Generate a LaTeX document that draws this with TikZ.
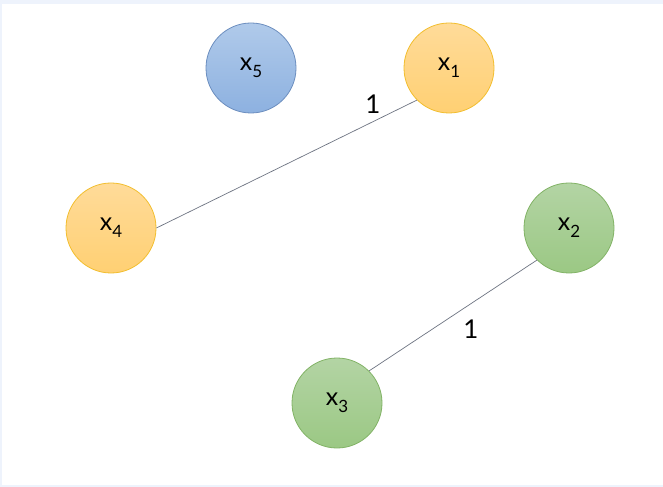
\documentclass[tikz,border=0pt]{standalone}
\usepackage{fontspec}
\setmainfont{Lato}
\definecolor{bgstrip}{HTML}{EEF3FC}
\definecolor{bluetop}{HTML}{B0CAEA}
\definecolor{bluebot}{HTML}{8DB1E0}
\definecolor{bluedraw}{HTML}{6C8EBF}
\definecolor{orangetop}{HTML}{FFDB99}
\definecolor{orangebot}{HTML}{FFD073}
\definecolor{orangedraw}{HTML}{F2BE2E}
\definecolor{greentop}{HTML}{B3D4A4}
\definecolor{greenbot}{HTML}{9BC884}
\definecolor{greendraw}{HTML}{82B366}
\definecolor{edgegray}{HTML}{6E7482}
\newcommand{\vsub}[1]{\raisebox{-0.28em}{\fontsize{17}{20}\selectfont #1}}
\tikzset{
  x=1bp, y=-1bp,
  vnode/.style={circle, minimum size=90bp, inner sep=0pt, line width=0.8bp,
    font=\fontsize{25}{28}\selectfont},
  bluev/.style={vnode, draw=bluedraw, top color=bluetop, bottom color=bluebot},
  orangev/.style={vnode, draw=orangedraw, top color=orangetop, bottom color=orangebot},
  greenv/.style={vnode, draw=greendraw, top color=greentop, bottom color=greenbot},
  edge/.style={draw=edgegray, line width=0.7bp},
  elabel/.style={font=\fontsize{26}{30}\selectfont}
}
\begin{document}
\begin{tikzpicture}
\fill[bgstrip] (0,0) rectangle (663,487);
\fill[white] (2,4) rectangle (663,485);
\useasboundingbox (0,0) rectangle (663,487);
\node[bluev] (x5) at (251,68) {x\vsub{5}};
\node[orangev] (x1) at (449,68) {x\vsub{1}};
\node[orangev] (x4) at (111,228) {x\vsub{4}};
\node[greenv] (x2) at (569,228) {x\vsub{2}};
\node[greenv] (x3) at (337,403) {x\vsub{3}};
\draw[edge] (x4.east) -- (x1.south west);
\draw[edge] (x3.north east) -- (x2.south west);
\node[elabel] (l1) at (373,104) {1};
\node[elabel] (l2) at (471,329) {1};
\end{tikzpicture}
\end{document}
